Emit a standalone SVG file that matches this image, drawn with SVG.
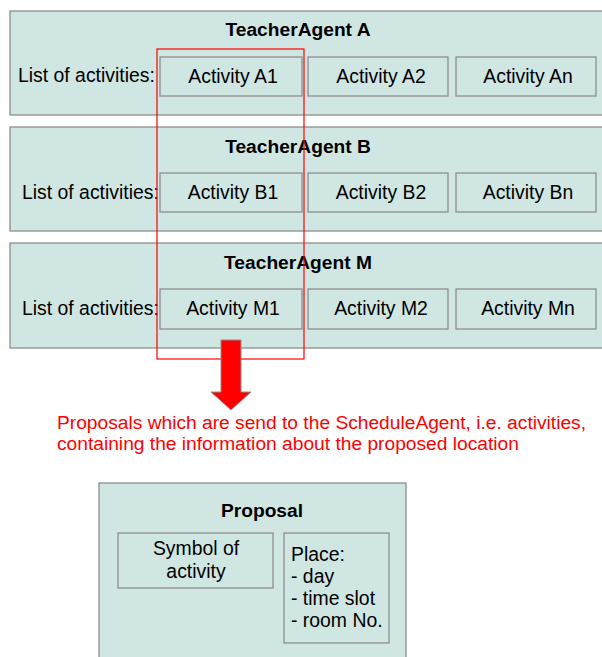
<svg xmlns="http://www.w3.org/2000/svg" width="602" height="657" viewBox="0 0 602 657">
<style>
.box{fill:#d0e6e3;stroke:#8e8e8e;stroke-width:1.3}
.t{font-family:"Liberation Sans",Arial,sans-serif;font-size:19.4px;fill:#000}
.b{font-weight:bold;text-anchor:middle;font-size:19.2px}
.m{text-anchor:middle}
.red{font-family:"Liberation Sans",Arial,sans-serif;font-size:19.2px;fill:#ff0000}
</style>
<rect width="602" height="657" fill="#fff"/>
<g id="agentA">
<rect class="box" x="10" y="11" width="600" height="104"/>
<text class="t b" x="298" y="36">TeacherAgent A</text>
<text class="t" x="18" y="82">List of activities:</text>
<rect class="box" x="160" y="57" width="142" height="39"/>
<text class="t m" x="233" y="83">Activity A1</text>
<rect class="box" x="308" y="57" width="140" height="39"/>
<text class="t m" x="381" y="83">Activity A2</text>
<rect class="box" x="456" y="57" width="140" height="39"/>
<text class="t m" x="528" y="83">Activity An</text>
</g>
<g id="agentB">
<rect class="box" x="10" y="127" width="600" height="104"/>
<text class="t b" x="298" y="153">TeacherAgent B</text>
<text class="t" x="22" y="199">List of activities:</text>
<rect class="box" x="160" y="173" width="142" height="39"/>
<text class="t m" x="233" y="199">Activity B1</text>
<rect class="box" x="308" y="173" width="140" height="39"/>
<text class="t m" x="381" y="199">Activity B2</text>
<rect class="box" x="456" y="173" width="140" height="39"/>
<text class="t m" x="528" y="199">Activity Bn</text>
</g>
<g id="agentM">
<rect class="box" x="10" y="243" width="600" height="105"/>
<text class="t b" x="298" y="269">TeacherAgent M</text>
<text class="t" x="22" y="315">List of activities:</text>
<rect class="box" x="160" y="289" width="142" height="40"/>
<text class="t m" x="233" y="315">Activity M1</text>
<rect class="box" x="308" y="289" width="140" height="40"/>
<text class="t m" x="381" y="315">Activity M2</text>
<rect class="box" x="456" y="289" width="140" height="40"/>
<text class="t m" x="528" y="315">Activity Mn</text>
</g>
<g id="connectors">
<rect x="157" y="49" width="147" height="310" fill="none" stroke="#ff0000" stroke-width="1.2"/>
<polygon points="221,340 241,340 241,392 251,392 231,410 211,392 221,392" fill="#ff0000" stroke="#8e8e8e" stroke-width="1"/>
</g>
<g id="caption">
<text class="red" x="57" y="428.5">Proposals which are send to the ScheduleAgent, i.e. activities,</text>
<text class="red" x="57" y="449.5">containing the information about the proposed location</text>
</g>
<g id="proposal">
<rect class="box" x="99" y="483" width="307" height="190"/>
<text class="t b" x="262" y="517">Proposal</text>
<rect class="box" x="118" y="533" width="155" height="55"/>
<text class="t m" x="196" y="555">Symbol of</text>
<text class="t m" x="196" y="578">activity</text>
<rect class="box" x="284" y="533" width="105" height="110"/>
<text class="t" x="291" y="561">Place:</text>
<text class="t" x="291" y="583">- day</text>
<text class="t" x="291" y="605">- time slot</text>
<text class="t" x="291" y="627">- room No.</text>
</g>
</svg>
